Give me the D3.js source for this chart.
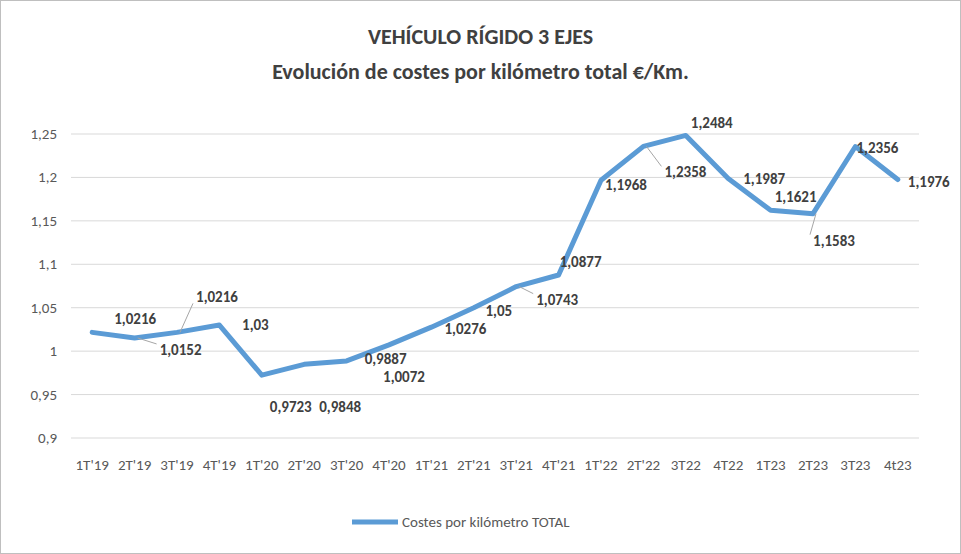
<!DOCTYPE html>
<meta charset="utf-8">
<title>Vehículo rígido 3 ejes</title>
<body style="margin:0;background:#fff">
<script src="https://cdn.jsdelivr.net/npm/d3@7"></script>
<script>
var categories = ["1T'19","2T'19","3T'19","4T'19","1T'20","2T'20","3T'20","4T'20","1T'21","2T'21","3T'21","4T'21","1T'22","2T'22","3T22","4T22","1T23","2T23","3T23","4t23"];
var values = [1.0216,1.0152,1.0216,1.03,0.9723,0.9848,0.9887,1.0072,1.0276,1.05,1.0743,1.0877,1.1968,1.2358,1.2484,1.1987,1.1621,1.1583,1.2356,1.1976];
var yTicks = [0.9,0.95,1,1.05,1.1,1.15,1.2,1.25];
// label offsets from point (dx, dy) and whether a leader line is drawn
var labelPos = [[43,-13,0],[46,12,1],[40,-35,1],[36,0,0],[29,32,0],[36,43,0],[39,-2,0],[15,32,0],[34,2,0],[25,3,0],[41,13,1],[22,-13,0],[25,5,0],[42,26,1],[26,-12,0],[36,0,0],[25,-13,0],[21,27,1],[22,1,0],[31,2,0]];

var width = 961, height = 554,
    margin = {left: 71, right: 42, top: 134, bottom: 116};

var svg = d3.select("body").append("svg")
    .attr("width", width).attr("height", height)
    .style("font-family", "Calibri, 'Open Sans', sans-serif");

svg.append("rect").attr("x", 0.5).attr("y", 0.5).attr("width", width - 1).attr("height", height - 1)
    .attr("fill", "#fff").attr("stroke", "#bfbfbf");

var x = d3.scaleBand().domain(categories).range([margin.left, width - margin.right]);
var y = d3.scaleLinear().domain([0.9, 1.25]).range([height - margin.bottom, margin.top]);

svg.append("text").attr("x", width / 2).attr("y", 44).attr("text-anchor", "middle")
    .attr("font-size", 22).attr("font-weight", "bold").attr("fill", "#404040").text("VEHÍCULO RÍGIDO 3 EJES");
svg.append("text").attr("x", width / 2).attr("y", 79).attr("text-anchor", "middle")
    .attr("font-size", 22).attr("font-weight", "bold").attr("fill", "#404040").text("Evolución de costes por kilómetro total €/Km.");

svg.append("g").selectAll("line").data(yTicks).enter().append("line")
    .attr("x1", margin.left).attr("x2", width - margin.right)
    .attr("y1", d => y(d)).attr("y2", d => y(d))
    .attr("stroke", "#d9d9d9");

svg.append("g").selectAll("text").data(yTicks).enter().append("text")
    .attr("x", margin.left - 14).attr("y", d => y(d) + 5).attr("text-anchor", "end")
    .attr("font-size", 15).attr("fill", "#595959")
    .text(d => d3.format(",")(d).replace(".", ","));

svg.append("g").selectAll("text").data(categories).enter().append("text")
    .attr("x", d => x(d) + x.bandwidth() / 2).attr("y", height - margin.bottom + 32)
    .attr("text-anchor", "middle").attr("font-size", 15).attr("fill", "#595959").text(d => d);

var cx = i => x(categories[i]) + x.bandwidth() / 2;
var pts = values.map((v, i) => ({v: v, i: i, dx: labelPos[i][0], dy: labelPos[i][1], lead: labelPos[i][2]}));

svg.append("path").datum(values)
    .attr("fill", "none").attr("stroke", "#5b9bd5").attr("stroke-width", 5)
    .attr("stroke-linejoin", "round").attr("stroke-linecap", "round")
    .attr("d", d3.line().x((d, i) => cx(i)).y(d => y(d)));

var labels = svg.append("g").selectAll("g").data(pts).enter().append("g");
labels.filter(d => d.lead).append("line")
    .attr("x1", d => cx(d.i) + 3).attr("y1", d => y(d.v))
    .attr("x2", d => cx(d.i) + d.dx - 24)
    .attr("y2", d => y(d.v) + d.dy + (d.dy < 0 ? 6 : -6))
    .attr("stroke", "#a6a6a6");
labels.append("text")
    .attr("x", d => cx(d.i) + d.dx).attr("y", d => y(d.v) + d.dy + 5)
    .attr("text-anchor", "middle").attr("font-size", 15).attr("font-weight", "bold").attr("fill", "#404040")
    .text(d => String(d.v).replace(".", ","));

svg.append("line").attr("x1", 352).attr("x2", 398).attr("y1", 522).attr("y2", 522)
    .attr("stroke", "#5b9bd5").attr("stroke-width", 5);
svg.append("text").attr("x", 402).attr("y", 527).attr("font-size", 15).attr("fill", "#595959")
    .text("Costes por kilómetro TOTAL");
</script>
